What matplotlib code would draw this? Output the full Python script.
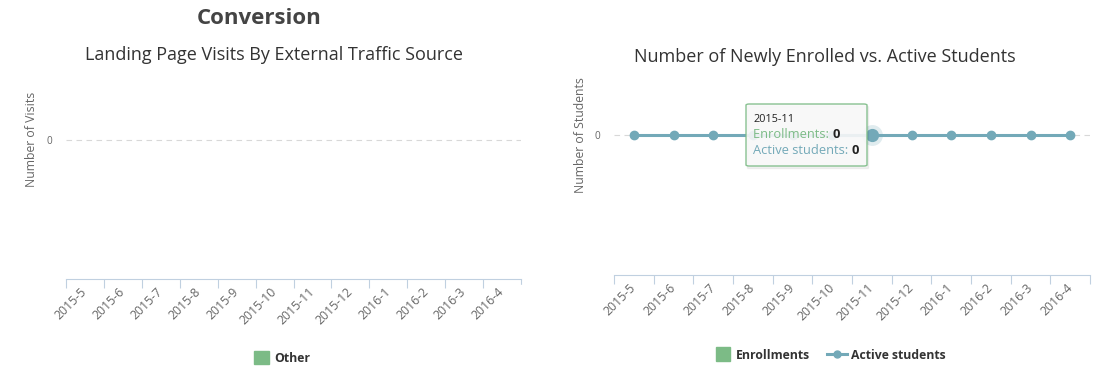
import numpy as np
import matplotlib.pyplot as plt
from matplotlib.patches import Patch, Rectangle, FancyBboxPatch
from matplotlib.lines import Line2D

plt.rcParams['font.family'] = ['Open Sans', 'DejaVu Sans']

months = ['2015-5', '2015-6', '2015-7', '2015-8', '2015-9', '2015-10',
          '2015-11', '2015-12', '2016-1', '2016-2', '2016-3', '2016-4']
visits_other = [0, 0, 0, 0, 0, 0, 0, 0, 0, 0, 0, 0]
enrollments = [0, 0, 0, 0, 0, 0, 0, 0, 0, 0, 0, 0]
active_students = [0, 0, 0, 0, 0, 0, 0, 0, 0, 0, 0, 0]
hover_idx = 6

GREEN = '#7cbb86'
TEAL = '#73a9b8'
AXIS = '#c0d0e0'
GRID = '#d8d8d8'
LABEL = '#666666'
TITLE = '#333333'

W, H = 1106, 377
fig = plt.figure(figsize=(W / 100, H / 100), dpi=100)


def px_axes(x0, y0, x1, y1):
    # pixel box (top-left origin) -> figure axes
    return fig.add_axes([x0 / W, 1 - y1 / H, (x1 - x0) / W, (y1 - y0) / H])


def style(ax, ylabel):
    x = np.arange(len(months))
    for s in ['top', 'right', 'left']:
        ax.spines[s].set_visible(False)
    ax.spines['bottom'].set_color(AXIS)
    ax.spines['bottom'].set_linewidth(0.8)
    ax.set_xticks(np.arange(len(months) + 1) - 0.5)
    ax.set_xticklabels([])
    ax.tick_params(axis='x', which='major', length=6.5, width=0.8, color=AXIS)
    ax.set_xticks(x, minor=True)
    ax.set_xticklabels(months, minor=True, rotation=45, ha='right', va='center',
                       rotation_mode='anchor', fontsize=8.8, color=LABEL)
    ax.tick_params(axis='x', which='minor', length=0, pad=8)
    ax.set_yticks([0])
    ax.set_yticklabels(['0'], fontsize=7.2, color=LABEL)
    ax.tick_params(axis='y', length=0, pad=10)
    ax.axhline(0, color=GRID, lw=0.8, ls=(0, (5, 4)), zorder=0)
    ax.set_ylim(-1, 1)
    ax.set_ylabel(ylabel, fontsize=8.8, color=LABEL)


# left: landing page visits
ax1 = px_axes(66, 0, 521, 279)
ax1.bar(np.arange(len(months)), visits_other, width=0.6, color=GREEN)
ax1.set_xlim(-0.5, 11.0)
style(ax1, 'Number of Visits')
ax1.yaxis.set_label_coords(-0.061, 0.5)

# right: enrolled vs active
ax2 = px_axes(614, -5, 1090, 275)
x = np.arange(len(months))
ax2.bar(x, enrollments, width=0.6, color=GREEN)
ax2.plot(x, active_students, color=TEAL, lw=2.2, marker='o', ms=6, zorder=3)
ax2.plot(x[hover_idx], active_students[hover_idx], 'o', ms=15,
         color=TEAL, alpha=0.22, mec='none', zorder=3)
ax2.plot(x[hover_idx], active_students[hover_idx], 'o', ms=8.5,
         color=TEAL, zorder=4)
ax2.set_xlim(-0.5, 11.5)
style(ax2, 'Number of Students')
ax2.yaxis.set_label_coords(-0.057, 0.5)

# clip the cut-off last label of the left chart
fig.patches.append(Rectangle((519 / W, 1 - 345 / H), 40 / W, 60 / H,
                             transform=fig.transFigure, color='white', zorder=5))

# titles
fig.text(259 / W, 1 - 18 / H, 'Conversion', ha='center', va='center',
         fontsize=16, fontweight='bold', color='#444444')
fig.text(274 / W, 1 - 55 / H, 'Landing Page Visits By External Traffic Source',
         ha='center', va='center', fontsize=13, color=TITLE)
fig.text(825 / W, 1 - 57 / H, 'Number of Newly Enrolled vs. Active Students',
         ha='center', va='center', fontsize=13, color=TITLE)

# legends
leg_font = {'size': 8.8, 'weight': 'bold'}
fig.legend(handles=[Patch(color=GREEN, label='Other')], loc='center',
           bbox_to_anchor=(282 / W, 1 - 358 / H), frameon=False, prop=leg_font,
           handlelength=1.2, handleheight=1.2, handletextpad=0.4, labelcolor=TITLE)
fig.legend(handles=[Line2D([], [], ls='none', marker='s', ms=10.5, color=GREEN,
                           label='Enrollments'),
                    Line2D([], [], color=TEAL, lw=2.2, marker='o', ms=5,
                           label='Active students')],
           loc='center', bbox_to_anchor=(829 / W, 1 - 355 / H), ncol=2,
           frameon=False, prop=leg_font, handlelength=1.6, handleheight=1.1,
           handletextpad=0.3, columnspacing=1.4, labelcolor=TITLE)

# tooltip
bx0, by0, bx1, by1 = 746, 104, 867, 166
fig.patches.append(Rectangle(((bx0 + 1) / W, 1 - (by1 + 1.5) / H), (bx1 - bx0) / W,
                             (by1 - by0) / H, transform=fig.transFigure,
                             color='black', alpha=0.05, zorder=6))
fig.patches.append(FancyBboxPatch((bx0 / W, 1 - by1 / H), (bx1 - bx0) / W,
                                  (by1 - by0) / H, boxstyle='round,pad=0,rounding_size=0.003',
                                  transform=fig.transFigure, fc='#f9f9f9', ec=GREEN,
                                  lw=1.0, alpha=0.9, zorder=7))
fig.text(753 / W, 1 - 120 / H, months[hover_idx], fontsize=7.8, color='#222222',
         va='center', zorder=8)
t1 = fig.text(753 / W, 1 - 134 / H, 'Enrollments: ', fontsize=9.3, color=GREEN,
              va='center', zorder=8)
t2 = fig.text(753 / W, 1 - 150 / H, 'Active students: ', fontsize=9.3, color=TEAL,
              va='center', zorder=8)
for t, v in [(t1, enrollments[hover_idx]), (t2, active_students[hover_idx])]:
    fig.add_artist(plt.Annotation(str(v), xy=(1, 0.5), xycoords=t, va='center',
                                  fontsize=9.3, fontweight='bold', color='#222222',
                                  zorder=8))

fig.savefig('out.png', dpi=100)
